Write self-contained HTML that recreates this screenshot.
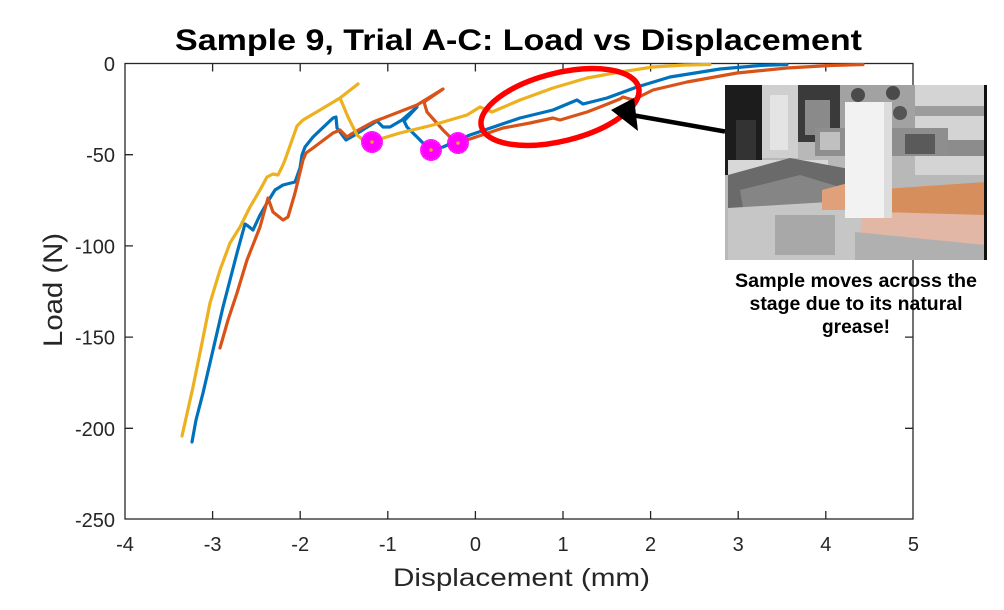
<!DOCTYPE html>
<html><head><meta charset="utf-8"><style>
html,body{margin:0;padding:0;background:#fff;}
svg{display:block;}
text{font-family:"Liberation Sans",Arial,sans-serif;}
</style></head><body>
<svg width="1004" height="610" viewBox="0 0 1004 610" xmlns="http://www.w3.org/2000/svg">
<rect width="1004" height="610" fill="#fff"/>
<!-- title -->
<text x="518.5" y="50" font-size="30" font-weight="bold" text-anchor="middle" textLength="687" lengthAdjust="spacingAndGlyphs" fill="#000">Sample 9, Trial A-C: Load vs Displacement</text>
<!-- axes box -->
<g stroke="#262626" stroke-width="1.3" fill="none">
<rect x="125" y="63.5" width="788" height="455.5"/>
<path d="M212.6,519v-8M300.2,519v-8M387.8,519v-8M475.4,519v-8M563,519v-8M650.6,519v-8M738.2,519v-8M825.8,519v-8
M212.6,63.5v8M300.2,63.5v8M387.8,63.5v8M475.4,63.5v8M563,63.5v8M650.6,63.5v8M738.2,63.5v8M825.8,63.5v8
M125,154.7h8M125,245.9h8M125,337.1h8M125,428.3h8
M913,154.7h-8M913,245.9h-8M913,337.1h-8M913,428.3h-8"/>
</g>
<!-- y tick labels -->
<g font-size="20" fill="#262626" text-anchor="end">
<text x="115" y="71">0</text>
<text x="115" y="162">-50</text>
<text x="115" y="253.5">-100</text>
<text x="115" y="344.5">-150</text>
<text x="115" y="436">-200</text>
<text x="115" y="527">-250</text>
</g>
<!-- x tick labels -->
<g font-size="20" fill="#262626" text-anchor="middle">
<text x="125" y="551">-4</text>
<text x="212.6" y="551">-3</text>
<text x="300.2" y="551">-2</text>
<text x="387.8" y="551">-1</text>
<text x="475.4" y="551">0</text>
<text x="563" y="551">1</text>
<text x="650.6" y="551">2</text>
<text x="738.2" y="551">3</text>
<text x="825.8" y="551">4</text>
<text x="913.4" y="551">5</text>
</g>
<text x="521.5" y="586" font-size="25" fill="#262626" text-anchor="middle" textLength="257" lengthAdjust="spacingAndGlyphs">Displacement (mm)</text>
<text transform="translate(62,290) rotate(-90)" x="0" y="0" font-size="27" fill="#262626" text-anchor="middle" textLength="114" lengthAdjust="spacingAndGlyphs">Load (N)</text>

<!-- series -->
<g fill="none" stroke-width="3.2" stroke-linejoin="round" stroke-linecap="round">
<polyline stroke="#0072BD" points="192,442 196,420 203,393 213,350 223,307 230,280 237,253 245,224 248,226 253,230 260,215 267,203 275,190 283,185 295,182 300,168 302,155 305,147 313,137 333,118 336,117 337,128 346,140 353,136 377,121 383,127 390,127 402,120 417,107 404,121 407,127 420,140 430,150 443,147 470,135 520,118 553,110 577,100 583,104 607,98 637,87 670,77 720,69 760,65.5 787,64.5"/>
<polyline stroke="#D95319" points="220,348 228,320 237,293 247,260 260,227 268,198 273,212 283,220 288,217 295,193 303,160 306,153 313,148 333,133 340,130 347,137 353,133 373,122 417,105 443,89 424,102 427,112 443,130 450,137 458,142 470,139 503,128 530,123 553,118 560,120 587,112 600,107 620,99 623,97 633,100 653,90 687,82 737,73 787,68 830,65.5 863,64.5"/>
<polyline stroke="#EDB120" points="182,436 193,387 202,343 210,303 220,270 230,243 240,227 250,207 260,190 267,177 273,174 278,175 282,167 285,160 291,143 297,126 303,120 320,110 340,98 358,84 340,98 348,117 357,135 363,140 372,142 380,139 400,133 433,125 467,115 480,107 492,112 520,100 553,88 587,78 620,72 653,67 685,65 710,64.5"/>
</g>
<!-- markers -->
<defs>
<g id="star">
<circle r="8" fill="#ff00ff"/>
<g stroke="#ff00ff" stroke-width="1.8">
<line x1="-11" y1="0" x2="11" y2="0"/><line x1="0" y1="-11" x2="0" y2="11"/>
<line x1="-7.8" y1="-7.8" x2="7.8" y2="7.8"/><line x1="-7.8" y1="7.8" x2="7.8" y2="-7.8"/>
<line x1="-10.2" y1="-4.2" x2="10.2" y2="4.2"/><line x1="-10.2" y1="4.2" x2="10.2" y2="-4.2"/>
<line x1="-4.2" y1="-10.2" x2="4.2" y2="10.2"/><line x1="-4.2" y1="10.2" x2="4.2" y2="-10.2"/>
<line x1="-10.8" y1="-2.1" x2="10.8" y2="2.1"/><line x1="-10.8" y1="2.1" x2="10.8" y2="-2.1"/>
<line x1="-2.1" y1="-10.8" x2="2.1" y2="10.8"/><line x1="-2.1" y1="10.8" x2="2.1" y2="-10.8"/>
<line x1="-9.1" y1="-6.1" x2="9.1" y2="6.1"/><line x1="-9.1" y1="6.1" x2="9.1" y2="-6.1"/>
<line x1="-6.1" y1="-9.1" x2="6.1" y2="9.1"/><line x1="-6.1" y1="9.1" x2="6.1" y2="-9.1"/>
</g>
<circle r="1.8" fill="#f0a030"/>
</g>
</defs>
<use href="#star" x="372" y="142"/>
<use href="#star" x="431" y="150"/>
<use href="#star" x="458" y="143"/>

<!-- red ellipse -->
<ellipse cx="560" cy="107" rx="81" ry="34" transform="rotate(-14 560 107)" fill="none" stroke="#ff0000" stroke-width="5.5"/>

<!-- arrow -->
<line x1="725" y1="131.5" x2="632" y2="115" stroke="#000" stroke-width="4.5"/>
<polygon points="611,110 634,98 638,131" fill="#000"/>

<!-- photo -->
<g>
<rect x="725" y="85" width="262" height="175" fill="#b8b8b8"/>
<rect x="725" y="85" width="37" height="90" fill="#1c1c1c"/>
<rect x="736" y="120" width="20" height="40" fill="#333"/>
<rect x="762" y="85" width="36" height="73" fill="#cfcfcf"/>
<rect x="770" y="95" width="18" height="55" fill="#e4e4e4"/>
<rect x="798" y="85" width="44" height="57" fill="#3a3a3a"/>
<rect x="805" y="100" width="25" height="35" fill="#8a8a8a"/>
<rect x="915" y="85" width="70" height="90" fill="#d4d4d4"/>
<rect x="915" y="106" width="70" height="10" fill="#9c9c9c"/>
<rect x="915" y="140" width="70" height="16" fill="#8c8c8c"/>
<rect x="840" y="85" width="75" height="70" fill="#a2a2a2"/>
<circle cx="858" cy="95" r="7" fill="#4a4a4a"/>
<circle cx="893" cy="93" r="7" fill="#4a4a4a"/>
<circle cx="900" cy="113" r="7" fill="#555"/>
<rect x="815" y="128" width="133" height="28" fill="#8e8e8e"/>
<rect x="820" y="132" width="20" height="18" fill="#c0c0c0"/>
<rect x="905" y="134" width="30" height="20" fill="#5a5a5a"/>
<rect x="728" y="160" width="100" height="25" fill="#d8d8d8"/>
<polygon points="728,175 790,158 855,170 860,232 728,232" fill="#6a6a6a"/>
<polygon points="740,190 800,175 850,190 840,215 745,220" fill="#858585"/>
<polygon points="728,208 862,200 870,260 728,260" fill="#c6c6c6"/>
<rect x="775" y="215" width="60" height="40" fill="#a8a8a8"/>
<polygon points="822,190 848,183 850,210 822,210" fill="#e0a07a"/>
<polygon points="870,190 985,182 985,250 900,252 860,240 862,210" fill="#e2b7a6"/>
<polygon points="870,190 985,182 985,215 880,212" fill="#d68e5c"/>
<polygon points="855,232 985,245 985,260 855,260" fill="#b0b0b0"/>
<rect x="845" y="102" width="47" height="116" fill="#f2f2f2"/>
<rect x="884" y="102" width="8" height="116" fill="#dcdcdc"/>
<rect x="984" y="85" width="3" height="175" fill="#111"/>
</g>
<!-- photo caption -->
<g font-size="19" font-weight="bold" fill="#000" text-anchor="middle">
<text x="856" y="287" textLength="242" lengthAdjust="spacingAndGlyphs">Sample moves across the</text>
<text x="856" y="310" textLength="213" lengthAdjust="spacingAndGlyphs">stage due to its natural</text>
<text x="856" y="333" textLength="68" lengthAdjust="spacingAndGlyphs">grease!</text>
</g>
</svg>
</body></html>
